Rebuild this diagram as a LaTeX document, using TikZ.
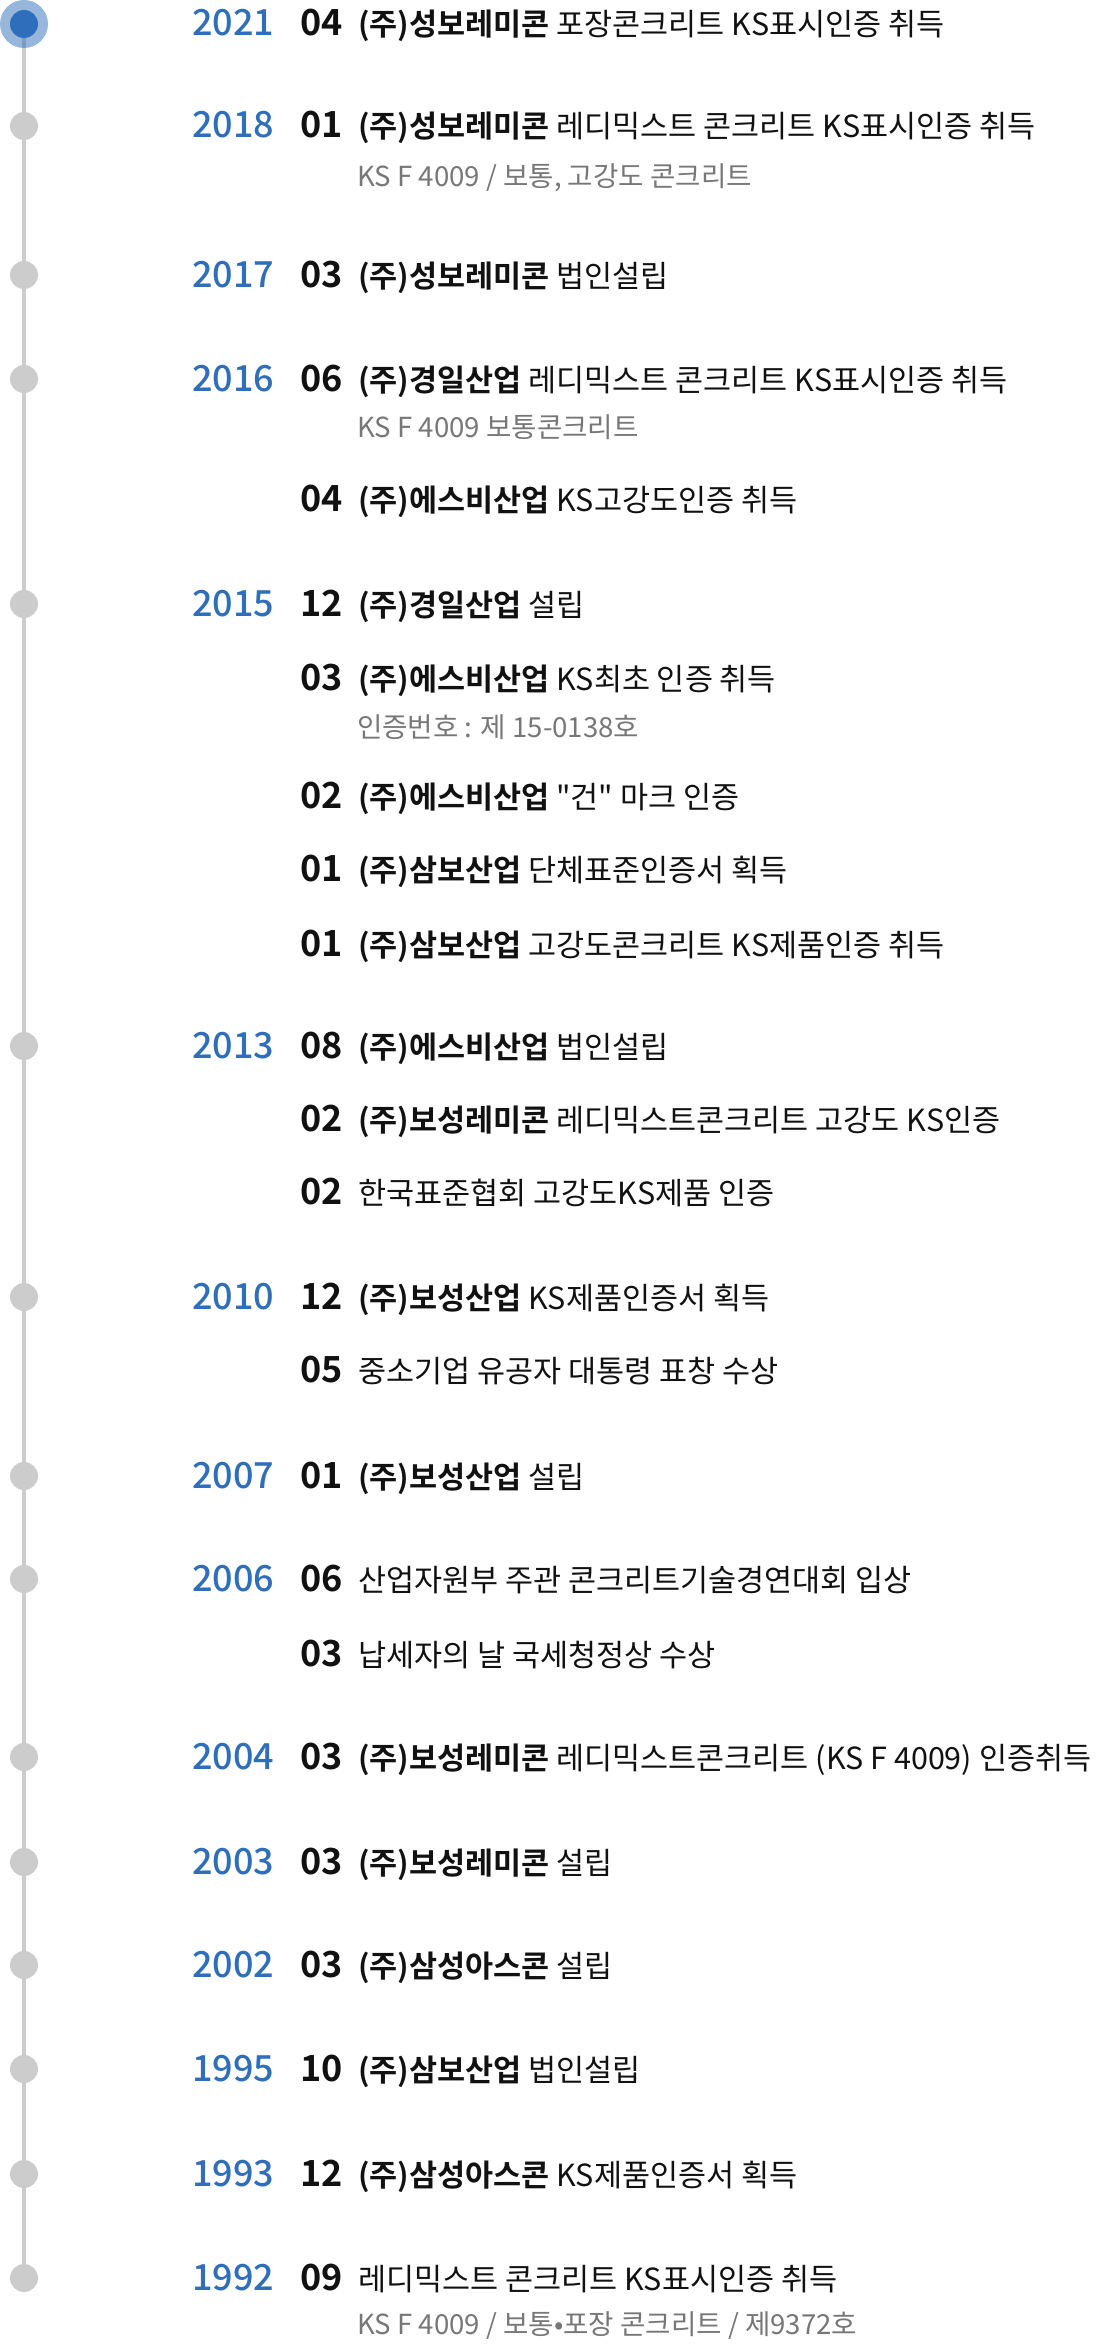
\documentclass[tikz,border=0pt]{standalone}
\usepackage{fontspec}
\setmainfont{Noto Sans CJK KR}[BoldFont={Noto Sans CJK KR Bold}]
\newfontfamily\yrfont{Noto Sans CJK KR Medium}
\newfontfamily\mofont{Noto Sans CJK KR Bold}
\usetikzlibrary{backgrounds}
\definecolor{yrblue}{HTML}{2F6EBA}
\definecolor{dotgray}{HTML}{CCCCCC}
\definecolor{ink}{HTML}{111111}
\definecolor{subgray}{HTML}{777777}
\newcommand\sq{{\addfontfeatures{Ligatures=TeXOff}"}}
\tikzset{
  dot/.style={circle, fill=dotgray, minimum size=28pt, inner sep=0pt},
  curdot/.style={circle, fill=yrblue, minimum size=28pt, inner sep=0pt},
  halo/.style={circle, fill=yrblue, fill opacity=0.5, minimum size=48pt, inner sep=0pt},
  tline/.style={draw=dotgray, line width=4pt},
  yr/.style={anchor=base west, inner sep=0pt, text=yrblue, font=\yrfont\fontsize{36}{40}\selectfont},
  mo/.style={anchor=base west, inner sep=0pt, text=ink, font=\mofont\fontsize{36}{40}\selectfont},
  txt/.style={anchor=base west, inner sep=0pt, text=ink, font=\fontsize{30.5}{34}\selectfont},
  subtxt/.style={anchor=base west, inner sep=0pt, text=subgray, font=\fontsize{27.6}{30}\selectfont},
}
\begin{document}
\begin{tikzpicture}[x=1pt,y=-1pt]
\useasboundingbox (0,0) rectangle (1104,2344);
% dots
\node[halo] (h1) at (24,24) {};
\node[curdot] (d1) at (24,24) {};
\node[dot] (d2) at (24,126) {};
\node[dot] (d3) at (24,275) {};
\node[dot] (d4) at (24,379) {};
\node[dot] (d5) at (24,604) {};
\node[dot] (d6) at (24,1046) {};
\node[dot] (d7) at (24,1297) {};
\node[dot] (d8) at (24,1476) {};
\node[dot] (d9) at (24,1579) {};
\node[dot] (d10) at (24,1757) {};
\node[dot] (d11) at (24,1862) {};
\node[dot] (d12) at (24,1965) {};
\node[dot] (d13) at (24,2069) {};
\node[dot] (d14) at (24,2174) {};
\node[dot] (d15) at (24,2278) {};
\begin{scope}[on background layer]
\draw[tline] (d1.center) -- (d15.center);
\end{scope}
% years
\node[yr] (y1) at (192,36) {2021};
\node[yr] (y2) at (192,138) {2018};
\node[yr] (y3) at (192,287) {2017};
\node[yr] (y4) at (192,391) {2016};
\node[yr] (y5) at (192,616) {2015};
\node[yr] (y6) at (192,1058) {2013};
\node[yr] (y7) at (192,1309) {2010};
\node[yr] (y8) at (192,1488) {2007};
\node[yr] (y9) at (192,1591) {2006};
\node[yr] (y10) at (192,1769) {2004};
\node[yr] (y11) at (192,1874) {2003};
\node[yr] (y12) at (192,1977) {2002};
\node[yr] (y13) at (192,2081) {1995};
\node[yr] (y14) at (192,2186) {1993};
\node[yr] (y15) at (192,2290) {1992};
% months and texts
\node[mo] (m1) at (300,36) {04};
\node[txt] (t1) at (358,36) {\textbf{(주)성보레미콘} 포장콘크리트 KS표시인증 취득};
\node[mo] (m2) at (300,138) {01};
\node[txt] (t2) at (358,138) {\textbf{(주)성보레미콘} 레디믹스트 콘크리트 KS표시인증 취득};
\node[subtxt] (s2) at (357,186) {KS F 4009 / 보통, 고강도 콘크리트};
\node[mo] (m3) at (300,287) {03};
\node[txt] (t3) at (358,287) {\textbf{(주)성보레미콘} 법인설립};
\node[mo] (m4) at (300,391) {06};
\node[txt] (t4) at (358,391) {\textbf{(주)경일산업} 레디믹스트 콘크리트 KS표시인증 취득};
\node[subtxt] (s4) at (357,437) {KS F 4009 보통콘크리트};
\node[mo] (m5) at (300,511) {04};
\node[txt] (t5) at (358,511) {\textbf{(주)에스비산업} KS고강도인증 취득};
\node[mo] (m6) at (300,616) {12};
\node[txt] (t6) at (358,616) {\textbf{(주)경일산업} 설립};
\node[mo] (m7) at (300,690) {03};
\node[txt] (t7) at (358,690) {\textbf{(주)에스비산업} KS최초 인증 취득};
\node[subtxt] (s7) at (357,737) {인증번호 : 제 15-0138호};
\node[mo] (m8) at (300,808) {02};
\node[txt] (t8) at (358,808) {\textbf{(주)에스비산업} \sq 건\sq{} 마크 인증};
\node[mo] (m9) at (300,881) {01};
\node[txt] (t9) at (358,881) {\textbf{(주)삼보산업} 단체표준인증서 획득};
\node[mo] (m10) at (300,956) {01};
\node[txt] (t10) at (358,956) {\textbf{(주)삼보산업} 고강도콘크리트 KS제품인증 취득};
\node[mo] (m11) at (300,1058) {08};
\node[txt] (t11) at (358,1058) {\textbf{(주)에스비산업} 법인설립};
\node[mo] (m12) at (300,1131) {02};
\node[txt] (t12) at (358,1131) {\textbf{(주)보성레미콘} 레디믹스트콘크리트 고강도 KS인증};
\node[mo] (m13) at (300,1204) {02};
\node[txt] (t13) at (358,1204) {한국표준협회 고강도KS제품 인증};
\node[mo] (m14) at (300,1309) {12};
\node[txt] (t14) at (358,1309) {\textbf{(주)보성산업} KS제품인증서 획득};
\node[mo] (m15) at (300,1382) {05};
\node[txt] (t15) at (358,1382) {중소기업 유공자 대통령 표창 수상};
\node[mo] (m16) at (300,1488) {01};
\node[txt] (t16) at (358,1488) {\textbf{(주)보성산업} 설립};
\node[mo] (m17) at (300,1591) {06};
\node[txt] (t17) at (358,1591) {산업자원부 주관 콘크리트기술경연대회 입상};
\node[mo] (m18) at (300,1666) {03};
\node[txt] (t18) at (358,1666) {납세자의 날 국세청정상 수상};
\node[mo] (m19) at (300,1769) {03};
\node[txt] (t19) at (358,1769) {\textbf{(주)보성레미콘} 레디믹스트콘크리트 (KS F 4009) 인증취득};
\node[mo] (m20) at (300,1874) {03};
\node[txt] (t20) at (358,1874) {\textbf{(주)보성레미콘} 설립};
\node[mo] (m21) at (300,1977) {03};
\node[txt] (t21) at (358,1977) {\textbf{(주)삼성아스콘} 설립};
\node[mo] (m22) at (300,2081) {10};
\node[txt] (t22) at (358,2081) {\textbf{(주)삼보산업} 법인설립};
\node[mo] (m23) at (300,2186) {12};
\node[txt] (t23) at (358,2186) {\textbf{(주)삼성아스콘} KS제품인증서 획득};
\node[mo] (m24) at (300,2290) {09};
\node[txt] (t24) at (358,2290) {레디믹스트 콘크리트 KS표시인증 취득};
\node[subtxt] (s24) at (357,2334) {KS F 4009 / 보통•포장 콘크리트 / 제9372호};
\end{tikzpicture}
\end{document}
